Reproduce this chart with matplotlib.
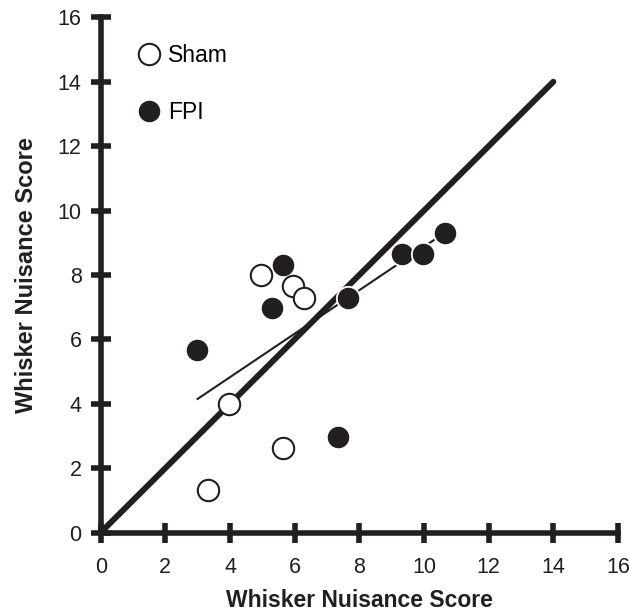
import matplotlib
matplotlib.use('Agg')
import matplotlib.pyplot as plt
from matplotlib.lines import Line2D

plt.rcParams['font.family'] = ['Liberation Sans', 'DejaVu Sans']

# Datos
sham_x = [4.95, 5.96, 6.30, 3.98, 5.65, 3.33]
sham_y = [8.00, 7.67, 7.28, 4.00, 2.63, 1.33]

fpi_x = [2.98, 5.65, 5.30, 7.65, 7.33, 9.32, 9.97, 10.66]
fpi_y = [5.68, 8.31, 6.98, 7.29, 2.98, 8.65, 8.65, 9.31]

# Recta identidad y recta de regresion (extremos)
ident_x = [0, 14]
ident_y = [0, 14]
fit_x = [2.97, 10.70]
fit_y = [4.13, 9.35]

ticks = [0, 2, 4, 6, 8, 10, 12, 14, 16]
negro = '#231f20'

fig = plt.figure(figsize=(6.29, 6.14), dpi=100)
ax = fig.add_axes([0.1601, 0.1327, 0.8224, 0.8391])

ax.plot(ident_x, ident_y, color=negro, lw=4.3, solid_capstyle='round', zorder=2)
ax.plot(fit_x, fit_y, color=negro, lw=1.5, solid_capstyle='butt', zorder=2)

ax.plot(fpi_x, fpi_y, 'o', ls='none', ms=16.8, mfc=negro, mec='white',
        mew=1.3, zorder=3)
ax.plot(sham_x, sham_y, 'o', ls='none', ms=15.4, mfc='white', mec=negro,
        mew=1.5, zorder=4)

ax.set_xlim(0, 16)
ax.set_ylim(0, 16)
ax.set_xticks(ticks)
ax.set_yticks(ticks)

for lado in ['top', 'right']:
    ax.spines[lado].set_visible(False)
for lado in ['left', 'bottom']:
    ax.spines[lado].set_linewidth(4)
    ax.spines[lado].set_color(negro)

ax.tick_params(axis='both', direction='inout', length=14.4, width=4,
               color=negro, labelsize=15.5, labelcolor=negro)
ax.tick_params(axis='x', pad=10.5)
ax.tick_params(axis='y', pad=6.5)

ax.set_xlabel('Whisker Nuisance Score', fontsize=16.5, fontweight='bold',
              color=negro, labelpad=8)
ax.set_ylabel('Whisker Nuisance Score', fontsize=17, fontweight='bold',
              color=negro, labelpad=14)

# Leyenda
handles = [
    Line2D([], [], marker='o', ls='none', ms=15.4, mfc='white', mec=negro, mew=1.5),
    Line2D([], [], marker='o', ls='none', ms=16.8, mfc=negro, mec='white', mew=1.3),
]
ax.legend(handles, ['Sham', 'FPI'], loc='upper left',
          bbox_to_anchor=(0.04, 0.98), frameon=False, fontsize=16.5,
          handlelength=1.0, handletextpad=0.35, labelspacing=1.5,
          borderpad=0.2)

plt.savefig('out.png', dpi=100)
